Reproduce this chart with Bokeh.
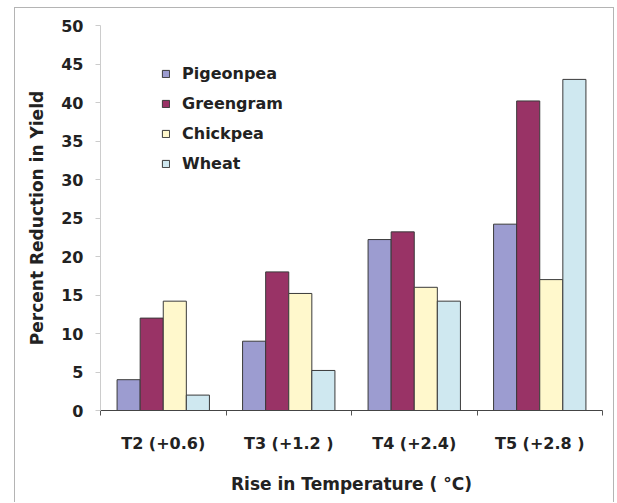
from bokeh.plotting import figure
from bokeh.models import ColumnDataSource, FixedTicker, Range1d, Legend, LegendItem
from bokeh.transform import dodge
from bokeh.embed import file_html
from bokeh.resources import INLINE

groups = ["T2 (+0.6)", "T3 (+1.2 )", "T4 (+2.4)", "T5 (+2.8 )"]
series = ["Pigeonpea", "Greengram", "Chickpea", "Wheat"]
pigeonpea = [4.0, 9.0, 22.2, 24.2]
greengram = [12.0, 18.0, 23.2, 40.2]
chickpea = [14.2, 15.2, 16.0, 17.0]
wheat = [2.0, 5.2, 14.2, 43.0]
y_ticks = [0, 5, 10, 15, 20, 25, 30, 35, 40, 45, 50]

colors = ["#9c9cd0", "#993366", "#fff8cc", "#cfe8f0"]
FONT = "DejaVu Sans"

centers = [i + 0.5 for i in range(len(groups))]
source = ColumnDataSource(dict(x=centers, Pigeonpea=pigeonpea, Greengram=greengram,
                               Chickpea=chickpea, Wheat=wheat))

p = figure(width=600, height=495, output_backend="svg", toolbar_location=None,
           x_range=Range1d(0, len(groups)), y_range=Range1d(0, 50),
           min_border_left=85, min_border_right=13, min_border_top=17, min_border_bottom=93)
p.styles = {"margin-left": "14px", "margin-top": "7px",
            "border-left": "1px solid #b4b4b4", "border-top": "1px solid #b4b4b4",
            "border-right": "1px solid #b4b4b4"}
p.outline_line_color = None
p.grid.visible = False

bw = 0.184
offsets = [-1.5 * bw, -0.5 * bw, 0.5 * bw, 1.5 * bw]
items = []
for name, off, col in zip(series, offsets, colors):
    r = p.vbar(x=dodge("x", off, range=p.x_range), top=name, width=bw, source=source,
               fill_color=col, line_color="#3a3a3a", line_width=1)
    items.append(LegendItem(label=name, renderers=[r]))

legend = Legend(items=items, location=(61, 237), padding=0, margin=0,
                border_line_color=None, background_fill_alpha=0,
                glyph_width=9, glyph_height=9, label_height=20, spacing=10,
                label_standoff=12, label_text_font=FONT, label_text_font_style="bold",
                label_text_font_size="16px", label_text_color="#222222")
p.add_layout(legend, "center")

# x axis
p.xaxis.ticker = FixedTicker(ticks=centers, minor_ticks=[0, 1, 2, 3, 4])
p.xaxis.major_label_overrides = {c: g for c, g in zip(centers, groups)}
p.xaxis.major_tick_line_color = None
p.xaxis.minor_tick_in = 0
p.xaxis.minor_tick_out = 5
p.xaxis.minor_tick_line_color = "#555555"
p.xaxis.axis_line_color = "#444444"
p.xaxis.major_label_text_font = FONT
p.xaxis.major_label_text_font_style = "bold"
p.xaxis.major_label_text_font_size = "16px"
p.xaxis.major_label_text_color = "#222222"
p.xaxis.major_label_standoff = 17
p.xaxis.axis_label = "Rise in Temperature ( \u00b0C)"
p.xaxis.axis_label_text_font = FONT
p.xaxis.axis_label_text_font_style = "bold"
p.xaxis.axis_label_text_font_size = "17px"
p.xaxis.axis_label_text_color = "#222222"
p.xaxis.axis_label_standoff = 18

# y axis
p.yaxis.ticker = FixedTicker(ticks=y_ticks, minor_ticks=[])
p.yaxis.axis_line_color = "#cccccc"
p.yaxis.major_tick_line_color = "#cccccc"
p.yaxis.major_tick_in = 0
p.yaxis.major_tick_out = 5
p.yaxis.minor_tick_line_color = None
p.yaxis.major_label_text_font = FONT
p.yaxis.major_label_text_font_style = "bold"
p.yaxis.major_label_text_font_size = "16px"
p.yaxis.major_label_text_color = "#222222"
p.yaxis.major_label_standoff = 12
p.yaxis.axis_label = "Percent Reduction in Yield"
p.yaxis.axis_label_text_font = FONT
p.yaxis.axis_label_text_font_style = "bold"
p.yaxis.axis_label_text_font_size = "17px"
p.yaxis.axis_label_text_color = "#222222"
p.yaxis.axis_label_standoff = 11

open("out.html", "w").write(file_html(p, INLINE))
